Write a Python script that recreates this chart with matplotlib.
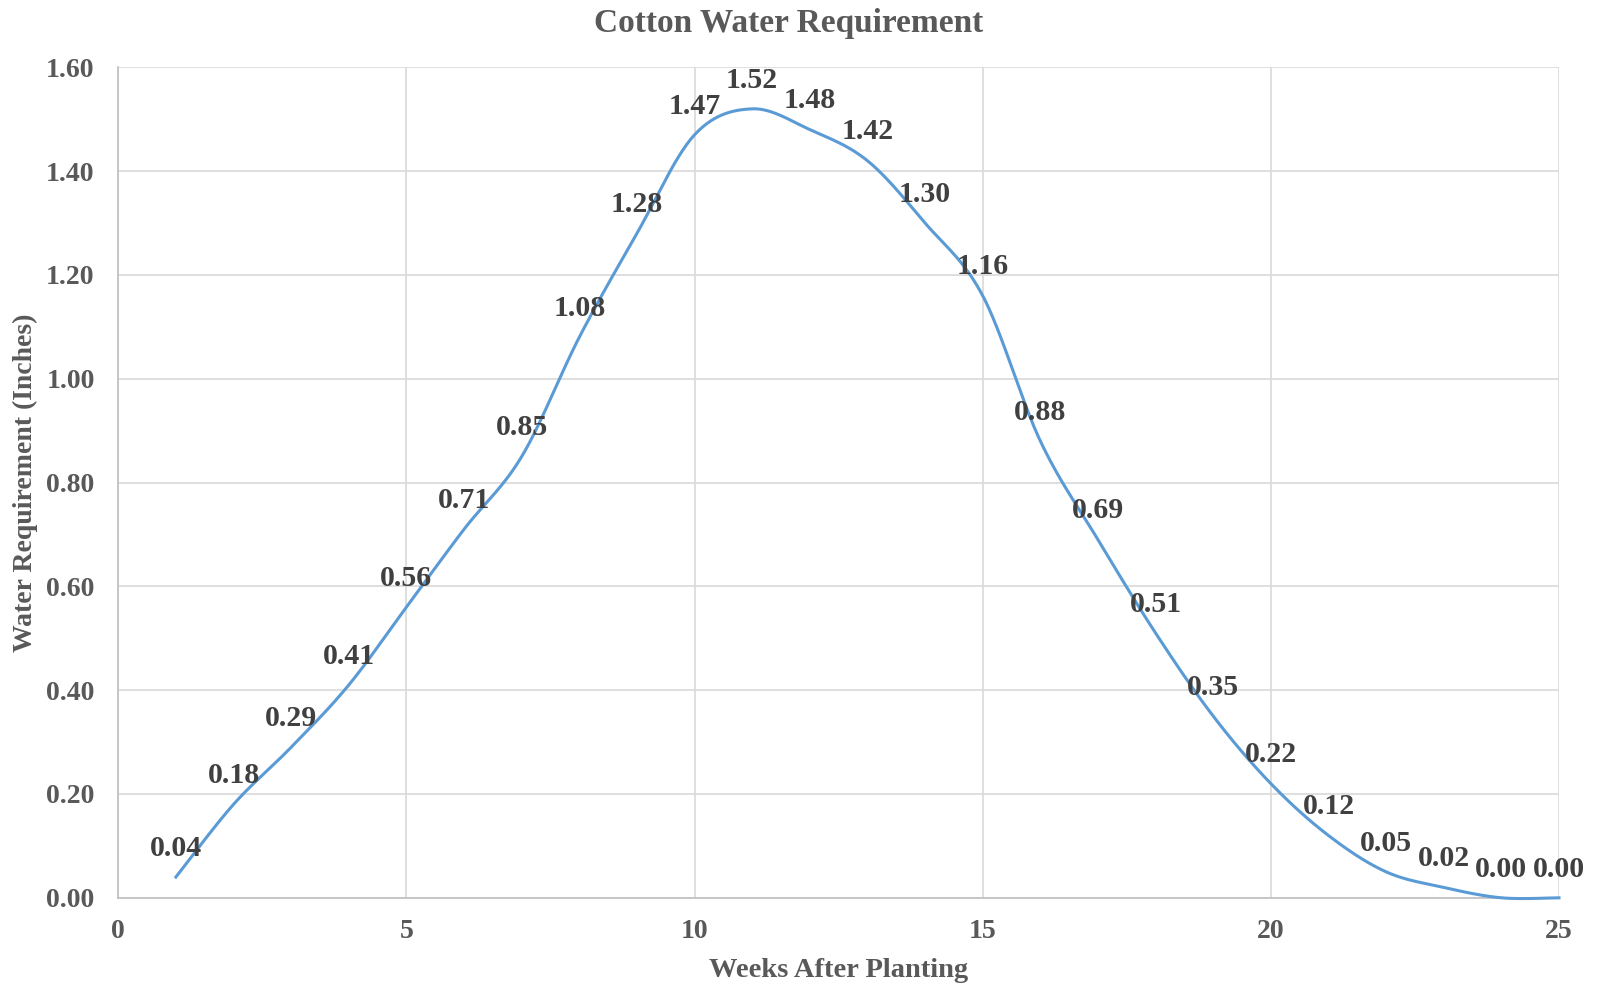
import matplotlib.pyplot as plt
import numpy as np

weeks = list(range(1, 26))
water = [0.04, 0.18, 0.29, 0.41, 0.56, 0.71, 0.85, 1.08, 1.28, 1.47,
         1.52, 1.48, 1.42, 1.30, 1.16, 0.88, 0.69, 0.51, 0.35, 0.22,
         0.12, 0.05, 0.02, 0.00, 0.00]


def smooth(x, y, n=30):
    # excel-style smoothed line (catmull-rom bezier)
    x = np.asarray(x, float)
    y = np.asarray(y, float)
    px = np.concatenate([[x[0]], x, [x[-1]]])
    py = np.concatenate([[y[0]], y, [y[-1]]])
    t = np.linspace(0, 1, n)
    xs, ys = [], []
    for i in range(1, len(px) - 2):
        p0 = np.array([px[i], py[i]])
        p3 = np.array([px[i + 1], py[i + 1]])
        p1 = p0 + (np.array([px[i + 1], py[i + 1]]) - np.array([px[i - 1], py[i - 1]])) / 6
        p2 = p3 - (np.array([px[i + 2], py[i + 2]]) - np.array([px[i], py[i]])) / 6
        b = ((1 - t) ** 3)[:, None] * p0 + (3 * (1 - t) ** 2 * t)[:, None] * p1 \
            + (3 * (1 - t) * t ** 2)[:, None] * p2 + (t ** 3)[:, None] * p3
        xs.extend(b[:, 0])
        ys.extend(b[:, 1])
    return np.array(xs), np.array(ys)


plt.rcParams['font.family'] = ['Liberation Serif', 'DejaVu Serif']
plt.rcParams['font.weight'] = 'bold'

fig = plt.figure(figsize=(15.98, 9.84), dpi=100)
ax = fig.add_axes([0.074, 0.0876, 0.9016, 0.844])

sx, sy = smooth(weeks, water)
ax.plot(sx, sy, color='#5B9BD5', lw=2.2, clip_on=False, zorder=3)

for w, v in zip(weeks, water):
    ax.annotate(f"{v:.2f}", (w, v), xytext=(0, 11), textcoords='offset points',
                ha='center', va='bottom', fontsize=21.5, fontweight='bold',
                color='#404040', zorder=4)

ax.set_xlim(0, 25)
ax.set_ylim(0, 1.6)
ax.set_xticks(range(0, 26, 5))
ax.set_yticks(np.arange(0, 1.61, 0.2))
ax.set_yticklabels([f"{v:.2f}" for v in np.arange(0, 1.61, 0.2)])
ax.tick_params(axis='y', length=0, labelsize=20, colors='#595959', pad=17)
ax.tick_params(axis='x', length=0, labelsize=20, colors='#595959', pad=15)
ax.grid(True, color='#D9D9D9', lw=1.2)
ax.set_axisbelow(True)
for s in ['top', 'right']:
    ax.spines[s].set_visible(False)
for s in ['left', 'bottom']:
    ax.spines[s].set_color('#BFBFBF')
    ax.spines[s].set_linewidth(1.2)

fig.text(0.4936, 0.976, "Cotton Water Requirement", fontsize=24, fontweight='bold',
         color='#595959', ha='center', va='center')
ax.set_xlabel("Weeks After Planting", fontsize=20.5, fontweight='bold',
              color='#595959', labelpad=10)
ax.set_ylabel("Water Requirement (Inches)", fontsize=20, fontweight='bold',
              color='#595959', labelpad=6)

fig.savefig("out.png", dpi=100)
